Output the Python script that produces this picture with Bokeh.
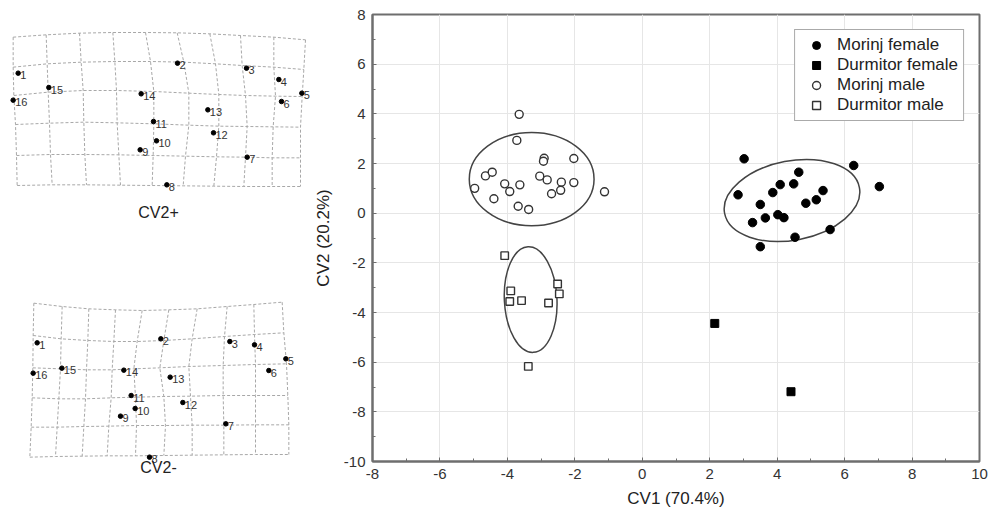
from bokeh.plotting import figure
from bokeh.models import Range1d, SingleIntervalTicker, PrintfTickFormatter
from bokeh.layouts import row, column
from bokeh.embed import file_html
from bokeh.resources import INLINE
from bokeh.core.properties import value

FONT = "Liberation Sans"

# ---------------- scatter data (CV1, CV2) ----------------
mf_x = [3.02, 6.27, 7.03, 4.64, 4.09, 4.49, 3.87, 2.84, 5.36, 5.16, 4.85, 3.50, 4.02, 4.20, 3.65, 3.27, 5.57, 4.53, 3.50]
mf_y = [2.19, 1.92, 1.07, 1.65, 1.15, 1.18, 0.83, 0.74, 0.91, 0.54, 0.40, 0.35, -0.06, -0.18, -0.19, -0.38, -0.66, -0.97, -1.35]
df_x = [2.15, 4.41]
df_y = [-4.44, -7.19]
mm_x = [-3.65, -3.72, -2.91, -2.93, -2.03, -4.65, -4.45, -4.97, -4.08, -3.93, -3.63, -4.40, -3.04, -2.82, -2.40, -2.03, -2.42, -2.69, -3.68, -3.37, -1.12]
mm_y = [3.98, 2.93, 2.21, 2.09, 2.20, 1.50, 1.65, 1.00, 1.18, 0.87, 1.14, 0.58, 1.49, 1.34, 1.25, 1.23, 0.92, 0.78, 0.28, 0.15, 0.86]
dm_x = [-4.08, -3.90, -3.93, -3.58, -2.78, -2.51, -2.46, -3.38]
dm_y = [-1.71, -3.13, -3.56, -3.52, -3.62, -2.85, -3.25, -6.17]

# confidence ellipses (Morinj female, Morinj male, Durmitor male)
ell_x = [4.44, -3.28, -3.31]
ell_y = [0.51, 1.37, -3.48]
ell_w = [4.07, 3.70, 1.56]
ell_h = [3.19, 3.75, 4.26]
ell_a = [0.19, 0.0, 0.05]

x_label = "CV1 (70.4%)"
y_label = "CV2 (20.2%)"

# ---------------- deformation grids (shape space units) ----------------
lm_labels = [str(i) for i in range(1, 17)]

plus_lm_x = [53, 531, 738, 835, 904, 843, 740, 499, 419, 468, 459, 639, 622, 422, 145, 38]
plus_lm_y = [218, 188, 203, 237, 278, 303, 470, 553, 448, 421, 363, 397, 328, 280, 261, 299]
# columns of grid: x of each vertical line at each horizontal line
plus_vx = [
    [38, 38, 40, 45, 48, 50],
    [137, 140, 143, 147, 150, 155],
    [237, 242, 248, 250, 253, 258],
    [337, 343, 348, 350, 355, 360],
    [435, 450, 460, 460, 458, 455],
    [530, 550, 565, 565, 555, 548],
    [628, 645, 655, 655, 648, 640],
    [720, 725, 735, 740, 735, 730],
    [820, 820, 825, 818, 815, 815],
    [915, 910, 905, 900, 900, 900],
]
# rows of grid: y of each horizontal line at each vertical line
plus_hy = [
    [110, 103, 98, 96, 96, 97, 100, 105, 110, 118],
    [200, 190, 185, 183, 183, 185, 190, 195, 200, 207],
    [285, 275, 270, 270, 273, 278, 282, 285, 287, 288],
    [372, 368, 365, 367, 370, 374, 377, 378, 379, 380],
    [465, 462, 462, 463, 465, 467, 469, 470, 472, 472],
    [555, 553, 553, 554, 555, 556, 557, 558, 558, 558],
]

minus_lm_x = [110, 481, 688, 762, 856, 805, 676, 447, 360, 404, 392, 547, 509, 370, 184, 98]
minus_lm_y = [187, 175, 183, 193, 235, 270, 430, 530, 407, 384, 345, 366, 290, 269, 263, 278]
minus_vx = [
    [100, 98, 97, 95, 92, 88],
    [185, 182, 180, 175, 170, 165],
    [265, 262, 258, 255, 250, 245],
    [345, 340, 335, 332, 325, 320],
    [425, 410, 400, 405, 408, 405],
    [505, 490, 478, 490, 495, 490],
    [590, 575, 565, 570, 575, 575],
    [680, 672, 668, 668, 670, 670],
    [760, 762, 765, 765, 765, 765],
    [845, 850, 858, 862, 865, 865],
]
minus_hy = [
    [68, 78, 85, 88, 90, 88, 85, 78, 72, 65],
    [165, 175, 180, 183, 183, 180, 175, 168, 162, 157],
    [262, 265, 268, 268, 265, 262, 258, 255, 252, 250],
    [352, 355, 355, 352, 350, 348, 347, 345, 345, 345],
    [440, 440, 438, 437, 435, 435, 434, 434, 433, 433],
    [530, 528, 527, 526, 526, 525, 524, 523, 522, 522],
]

panel_titles = ["CV2+", "CV2-"]
title_x = [474, 474]
title_y = [636, 561]

LEFT_W = 310


def grid_panel(height, vx, hy, lx, ly, title, tx, ty):
    g = figure(width=LEFT_W, height=height, output_backend="svg", toolbar_location=None,
               x_range=Range1d(0, LEFT_W * 3), y_range=Range1d(height * 3, 0),
               min_border=0, outline_line_color=None)
    g.axis.visible = False
    g.grid.visible = False
    nrow = len(hy)
    ncol = len(vx)
    node_x = [[vx[j][i] for j in range(ncol)] for i in range(nrow)]
    node_y = [[hy[i][j] for j in range(ncol)] for i in range(nrow)]
    xs = [node_x[i] for i in range(nrow)] + [[node_x[i][j] for i in range(nrow)] for j in range(ncol)]
    ys = [node_y[i] for i in range(nrow)] + [[node_y[i][j] for i in range(nrow)] for j in range(ncol)]
    g.multi_line(xs=xs, ys=ys, line_color="#a8a8a8", line_width=1, line_dash="3 2")
    g.scatter(x=lx, y=ly, size=4.5, color="black")
    g.text(x=lx, y=ly, text=lm_labels, x_offset=2, y_offset=2,
           text_font=value(FONT), text_font_size="11px", text_color="#333333",
           text_baseline="middle", text_align="left")
    g.text(x=[tx], y=[ty], text=[title], text_font=value(FONT), text_font_size="16px",
           text_color="#222222", text_baseline="middle", text_align="center")
    return g


gplus = grid_panel(280, plus_vx, plus_hy, plus_lm_x, plus_lm_y, panel_titles[0], title_x[0], title_y[0])
gminus = grid_panel(233, minus_vx, minus_hy, minus_lm_x, minus_lm_y, panel_titles[1], title_x[1], title_y[1])

# ---------------- main scatter ----------------
p = figure(width=993 - LEFT_W, height=513, output_backend="svg", toolbar_location=None,
           x_range=Range1d(-8, 10), y_range=Range1d(-10, 8),
           min_border_left=371 - LEFT_W, min_border_right=14, min_border_top=14, min_border_bottom=52,
           outline_line_color="#6e6e6e", outline_line_width=2)

for ax in (p.xaxis[0], p.yaxis[0]):
    ax.ticker = SingleIntervalTicker(interval=2, num_minor_ticks=2)
    ax.formatter = PrintfTickFormatter(format="%d")
    ax.axis_line_color = "#6e6e6e"
    ax.axis_line_width = 2
    ax.major_tick_in = 4
    ax.major_tick_out = 0
    ax.minor_tick_in = 3
    ax.minor_tick_out = 0
    ax.major_tick_line_color = "#6e6e6e"
    ax.minor_tick_line_color = "#6e6e6e"
    ax.major_label_text_font = FONT
    ax.major_label_text_font_size = "15px"
    ax.major_label_text_color = "#333333"
    ax.major_label_standoff = 7
    ax.axis_label_text_font = FONT
    ax.axis_label_text_font_size = "17px"
    ax.axis_label_text_font_style = "normal"
    ax.axis_label_text_color = "#222222"

p.xaxis.axis_label = x_label
p.yaxis.axis_label = y_label
p.xaxis.axis_label_standoff = 7
p.yaxis.axis_label_standoff = 8

for gr in (p.xgrid[0], p.ygrid[0]):
    gr.ticker = SingleIntervalTicker(interval=2)
    gr.grid_line_color = "#e6e6e6"
    gr.grid_line_width = 1

p.ellipse(x=ell_x, y=ell_y, width=ell_w, height=ell_h, angle=ell_a,
          fill_color=None, line_color="#444444", line_width=1.5)

p.scatter(mf_x, mf_y, marker="circle", size=8.5, fill_color="black", line_color="black",
          legend_label="Morinj female")
p.scatter(df_x, df_y, marker="square", size=8, fill_color="black", line_color="black",
          legend_label="Durmitor female")
p.scatter(mm_x, mm_y, marker="circle", size=8, fill_color="white", line_color="#333333",
          line_width=1.4, legend_label="Morinj male")
p.scatter(dm_x, dm_y, marker="square", size=7.5, fill_color="white", line_color="#333333",
          line_width=1.4, legend_label="Durmitor male")

lg = p.legend[0]
lg.location = "top_right"
lg.margin = 15
lg.padding = 5
lg.spacing = 0
lg.label_height = 20
lg.glyph_height = 20
lg.glyph_width = 32
lg.label_standoff = 5
lg.label_text_font = FONT
lg.label_text_font_size = "17px"
lg.label_text_color = "#222222"
lg.border_line_color = "#555555"
lg.border_line_width = 1.5
lg.background_fill_alpha = 1

layout = row(column(gplus, gminus), p)

open("out.html", "w").write(file_html(layout, INLINE))
